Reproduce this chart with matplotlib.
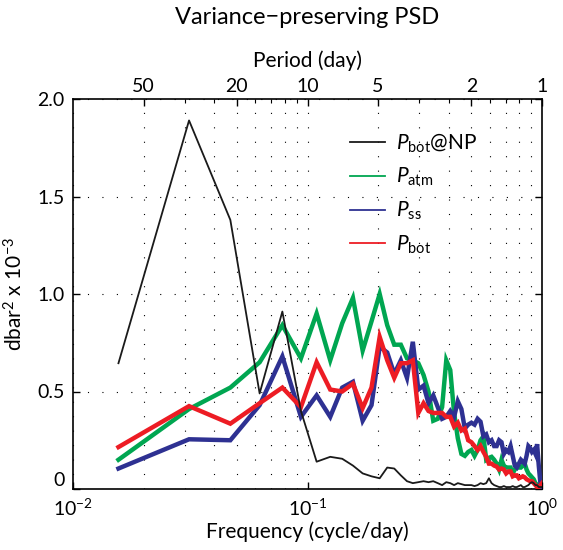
import numpy as np
import matplotlib
matplotlib.use("Agg")
import matplotlib.pyplot as plt
from matplotlib.lines import Line2D
from matplotlib.ticker import FixedLocator, NullFormatter

plt.rcParams['font.family'] = ['Lato', 'DejaVu Sans']
plt.rcParams['mathtext.fontset'] = 'custom'
plt.rcParams['mathtext.rm'] = 'Lato'
plt.rcParams['mathtext.it'] = 'Lato:italic'
plt.rcParams['mathtext.bf'] = 'Lato:bold'

# ---------------- data ----------------
record_days = 64
freq = np.arange(1, 65) / record_days   # cycle/day

p_bot_np = [0.645, 1.89, 1.38, 0.49, 0.91, 0.40, 0.14, 0.165, 0.155, 0.12,
            0.08, 0.065, 0.055, 0.11, 0.105, 0.07, 0.04, 0.03, 0.035, 0.04,
            0.035, 0.04, 0.03, 0.02, 0.035, 0.03, 0.02, 0.03, 0.025, 0.02,
            0.02, 0.02, 0.015, 0.02, 0.03, 0.025, 0.03, 0.055, 0.03, 0.02,
            0.015, 0.01, 0.01, 0.015, 0.01, 0.01, 0.01, 0.015, 0.01, 0.01,
            0.015, 0.02, 0.01, 0.01, 0.015, 0.02, 0.03, 0.035, 0.03, 0.02,
            0.02, 0.01, 0.01, 0.01]

p_atm = [0.15, 0.41, 0.52, 0.65, 0.84, 0.67, 0.90, 0.66, 0.85, 0.98,
         0.71, 0.86, 1.00, 0.84, 0.74, 0.74, 0.67, 0.66, 0.645, 0.585,
         0.50, 0.35, 0.36, 0.42, 0.66, 0.61, 0.39, 0.26, 0.18, 0.17,
         0.19, 0.20, 0.17, 0.20, 0.25, 0.27, 0.15, 0.16, 0.165, 0.15,
         0.13, 0.10, 0.15, 0.12, 0.11, 0.11, 0.11, 0.08, 0.10, 0.12,
         0.11, 0.11, 0.12, 0.13, 0.10, 0.08, 0.07, 0.06, 0.05, 0.03,
         0.02, 0.02, 0.01, 0.01]

p_ss = [0.105, 0.255, 0.25, 0.43, 0.68, 0.37, 0.48, 0.37, 0.52, 0.55,
        0.35, 0.43, 0.73, 0.70, 0.59, 0.66, 0.57, 0.755, 0.51, 0.53,
        0.44, 0.48, 0.42, 0.36, 0.37, 0.40, 0.37, 0.45, 0.41, 0.31,
        0.33, 0.34, 0.33, 0.36, 0.345, 0.27, 0.28, 0.24, 0.25, 0.22,
        0.22, 0.25, 0.24, 0.18, 0.20, 0.19, 0.22, 0.17, 0.12, 0.11,
        0.13, 0.15, 0.14, 0.13, 0.17, 0.22, 0.21, 0.19, 0.20, 0.18,
        0.23, 0.12, 0.03, 0.01]

p_bot = [0.215, 0.425, 0.335, 0.44, 0.52, 0.42, 0.65, 0.51, 0.50, 0.54,
         0.415, 0.52, 0.78, 0.66, 0.57, 0.645, 0.645, 0.66, 0.39, 0.44,
         0.40, 0.39, 0.39, 0.39, 0.37, 0.37, 0.32, 0.34, 0.30, 0.31,
         0.25, 0.24, 0.22, 0.20, 0.22, 0.19, 0.165, 0.13, 0.13, 0.12,
         0.115, 0.10, 0.105, 0.10, 0.08, 0.09, 0.09, 0.065, 0.07, 0.07,
         0.055, 0.06, 0.065, 0.06, 0.05, 0.045, 0.04, 0.04, 0.03, 0.02,
         0.01, 0.01, 0.02, 0.03]

period_labels = [50, 20, 10, 5, 2, 1]
y_ticks = [0, 0.5, 1.0, 1.5, 2.0]
y_ticklabels = ['0', '0.5', '1.0', '1.5', '2.0']

c_black = '#1a1a1a'
c_green = '#00a651'
c_blue = '#2e3192'
c_red = '#ed1c24'

# ---------------- figure ----------------
fig = plt.figure(figsize=(5.63, 5.50), dpi=100)
ax = fig.add_axes([73/563, 1-489/550, (542-73)/563, (489-99)/550])

ax.plot(freq, p_atm, color=c_green, lw=3.2, zorder=3, solid_joinstyle='miter')
ax.plot(freq, p_ss, color=c_blue, lw=3.2, zorder=4, solid_joinstyle='miter')
ax.plot(freq, p_bot, color=c_red, lw=3.2, zorder=5, solid_joinstyle='miter')
ax.plot(freq, p_bot_np, color=c_black, lw=1.3, zorder=6)

ax.set_xscale('log')
ax.set_xlim(0.01, 1.0)
ax.set_ylim(0, 2.0)

ax.set_xticks([0.01, 0.1, 1.0])
ax.set_xticklabels([r'$10^{-2}$', r'$10^{-1}$', r'$10^{0}$'], fontsize=14)
minor_f = [m * d for d in (0.01, 0.1) for m in range(2, 10)]
ax.xaxis.set_minor_locator(FixedLocator(minor_f))
ax.xaxis.set_minor_formatter(NullFormatter())
ax.set_yticks(y_ticks)
ax.set_yticklabels(y_ticklabels, fontsize=14)
ax.yaxis.get_major_ticks()[0].label1.set_va('bottom')

ax.tick_params(which='major', direction='in', length=5, width=1.0,
               right=True, top=False, pad=6)
ax.tick_params(which='minor', direction='in', length=0, top=False, bottom=False)

grid_style = dict(color='black', linestyle=(0, (1, 12)), linewidth=0.8)
ax.grid(True, which='major', axis='both', **grid_style)
ax.grid(True, which='minor', axis='x', **grid_style)

for s in ax.spines.values():
    s.set_linewidth(1.2)

ax.set_xlabel('Frequency (cycle/day)', fontsize=15, labelpad=2)
ax.set_ylabel(r'dbar$^2$ x 10$^{-3}$', fontsize=15, labelpad=8)

# top axis: period
ax2 = ax.twiny()
ax2.set_xscale('log')
ax2.set_xlim(ax.get_xlim())
ax2.set_xticks([1.0 / p for p in period_labels])
ax2.set_xticklabels([str(p) for p in period_labels], fontsize=14)
ax2.xaxis.set_minor_locator(FixedLocator(minor_f))
ax2.xaxis.set_minor_formatter(NullFormatter())
ax2.tick_params(which='major', direction='in', length=5, width=1.0, pad=3)
ax2.tick_params(which='minor', direction='in', length=3, width=0.8)
for s in ax2.spines.values():
    s.set_visible(False)
ax2.set_xlabel('Period (day)', fontsize=15, labelpad=8)

fig.text(307/563, 1-18/550, 'Variance\u2212preserving PSD', fontsize=17,
         ha='center', va='center')

handles = [Line2D([], [], color=c, lw=1.3) for c in (c_black, c_green, c_blue, c_red)]
labels = [r'$P_{\mathrm{bot}}$@NP', r'$P_{\mathrm{atm}}$', r'$P_{\mathrm{ss}}$',
          r'$P_{\mathrm{bot}}$']
ax.legend(handles, labels, loc='upper left', bbox_to_anchor=(0.55, 0.965),
          frameon=False, fontsize=15, handlelength=1.7, handletextpad=0.5,
          labelspacing=0.55)

fig.savefig('out.png', dpi=100)
